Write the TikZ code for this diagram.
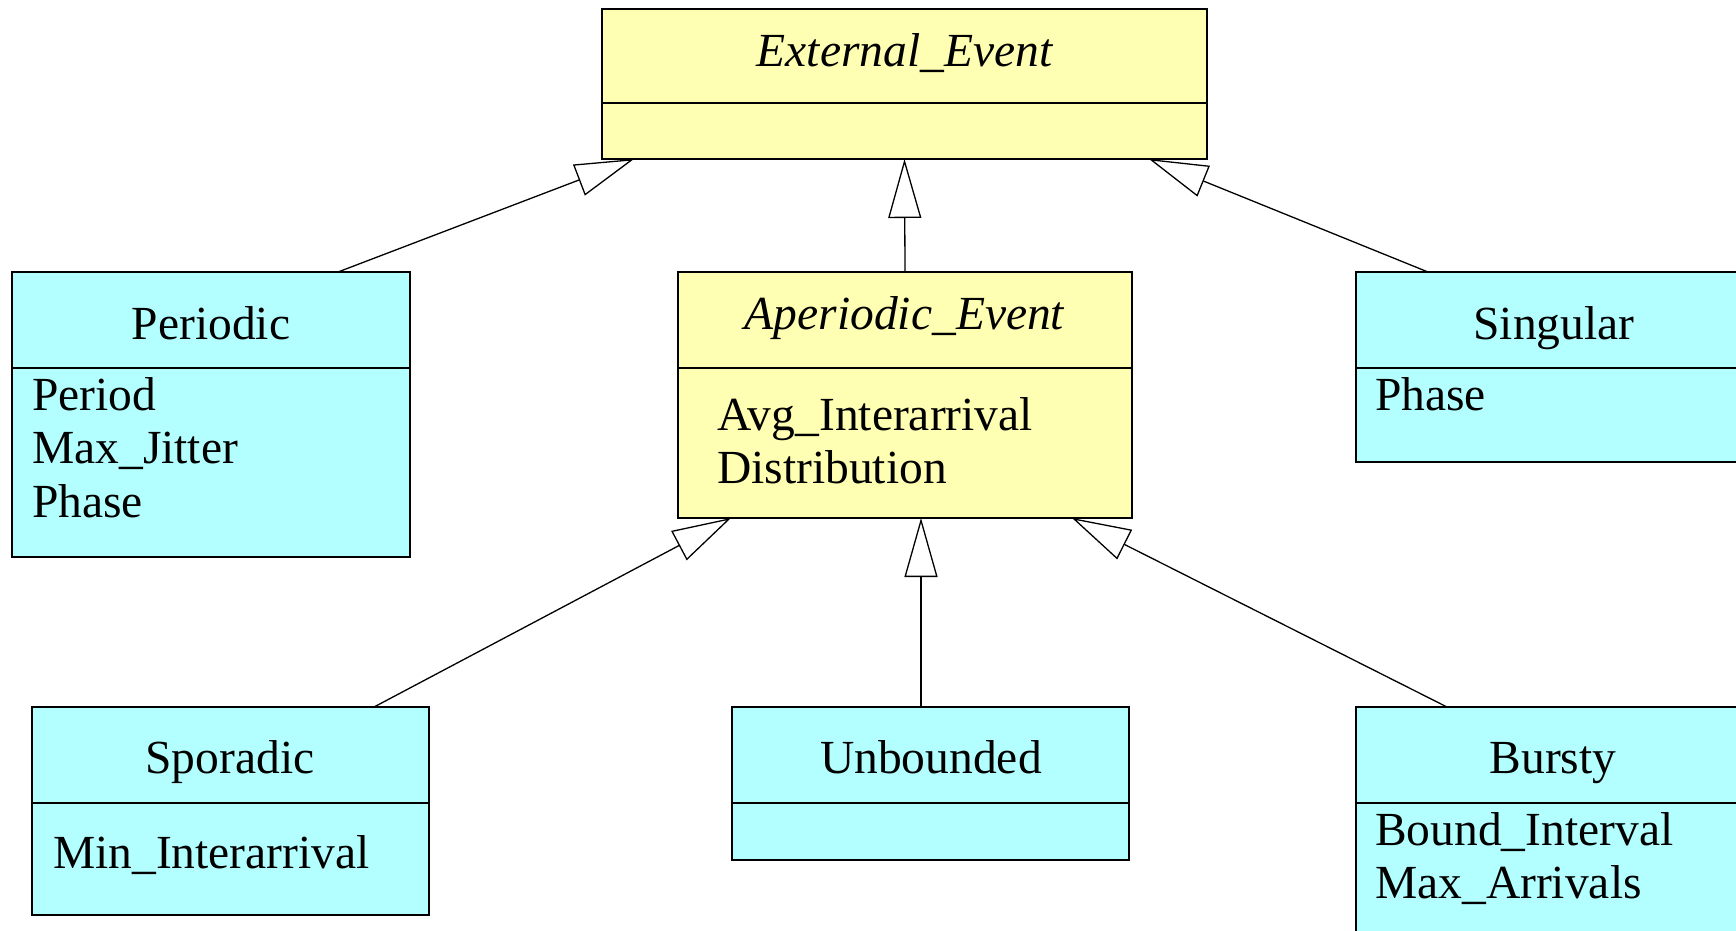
\documentclass[tikz,border=0pt]{standalone}
\usepackage{fontspec}
\setmainfont{Liberation Serif}
\usetikzlibrary{arrows.meta,calc}
\definecolor{clsyellow}{RGB}{255,255,179}
\definecolor{clscyan}{RGB}{179,255,255}
\begin{document}
\begin{tikzpicture}[x=1pt,y=-1pt,
  box/.style={draw=black, line width=2pt, anchor=north west, inner sep=0pt, outer sep=0pt},
  divider/.style={draw=black, line width=2pt},
  title/.style={anchor=base, inner sep=0pt, font=\fontsize{47.5}{53.5}\selectfont},
  attr/.style={anchor=base west, inner sep=0pt, font=\fontsize{47.5}{53.5}\selectfont},
  gen/.style={draw=black, line width=1.3pt, -{Triangle[open, length=59pt, width=33pt, line join=miter]}}
]
\useasboundingbox (0,0) rectangle (1736,930);
\begin{scope}
\clip (0,0) rectangle (1736,930);
% boxes
\node[box, fill=clsyellow, minimum width=605pt, minimum height=150pt] (ext) at (602,9) {};
\node[box, fill=clscyan, minimum width=398pt, minimum height=285pt] (per) at (12,272) {};
\node[box, fill=clsyellow, minimum width=454pt, minimum height=246pt] (ape) at (678,272) {};
\node[box, fill=clscyan, minimum width=392pt, minimum height=190pt] (sng) at (1356,272) {};
\node[box, fill=clscyan, minimum width=397pt, minimum height=208pt] (spo) at (32,707) {};
\node[box, fill=clscyan, minimum width=397pt, minimum height=153pt] (unb) at (732,707) {};
\node[box, fill=clscyan, minimum width=392pt, minimum height=240pt] (bur) at (1356,707) {};
% dividers
\draw[divider] (ext.west |- 0,103) -- (ext.east |- 0,103);
\draw[divider] (per.west |- 0,368) -- (per.east |- 0,368);
\draw[divider] (ape.west |- 0,368) -- (ape.east |- 0,368);
\draw[divider] (sng.west |- 0,368) -- (sng.east |- 0,368);
\draw[divider] (spo.west |- 0,803) -- (spo.east |- 0,803);
\draw[divider] (unb.west |- 0,803) -- (unb.east |- 0,803);
\draw[divider] (bur.west |- 0,803) -- (bur.east |- 0,803);
% titles
\node[title] (extT) at (905,66) {\textit{External\_Event}};
\node[title] (perT) at (211,339) {Periodic};
\node[title] (apeT) at (905,329) {\textit{Aperiodic\_Event}};
\node[title] (sngT) at (1554,339) {Singular};
\node[title] (spoT) at (230,773) {Sporadic};
\node[title] (unbT) at (931,773) {Unbounded};
\node[title] (burT) at (1553,773) {Bursty};
% attributes
\node[attr] (perA1) at (32,410) {Period};
\node[attr] (perA2) at (32,463) {Max\_Jitter};
\node[attr] (perA3) at (32,517) {Phase};
\node[attr] (apeA1) at (717,430) {Avg\_Interarrival};
\node[attr] (apeA2) at (717,483) {Distribution};
\node[attr] (sngA1) at (1375,410) {Phase};
\node[attr] (spoA1) at (53,868) {Min\_Interarrival};
\node[attr] (burA1) at (1375,845) {Bound\_Interval};
\node[attr] (burA2) at (1375,898) {Max\_Arrivals};
% generalizations
\draw[gen] ($(per.north west)+(326,0)$) -- ($(ext.south west)+(32,0)$);
\draw[gen] (ape.north) -- (ext.south);
\draw[gen] ($(sng.north west)+(72,0)$) -- ($(ext.south west)+(547,0)$);
\draw[gen] ($(spo.north west)+(342,0)$) -- ($(ape.south west)+(53,0)$);
\draw[gen] ($(unb.north west)+(189,0)$) -- ($(ape.south west)+(243,0)$);
\draw[gen] ($(bur.north west)+(91,0)$) -- ($(ape.south west)+(394,0)$);
\end{scope}
\end{tikzpicture}
\end{document}
